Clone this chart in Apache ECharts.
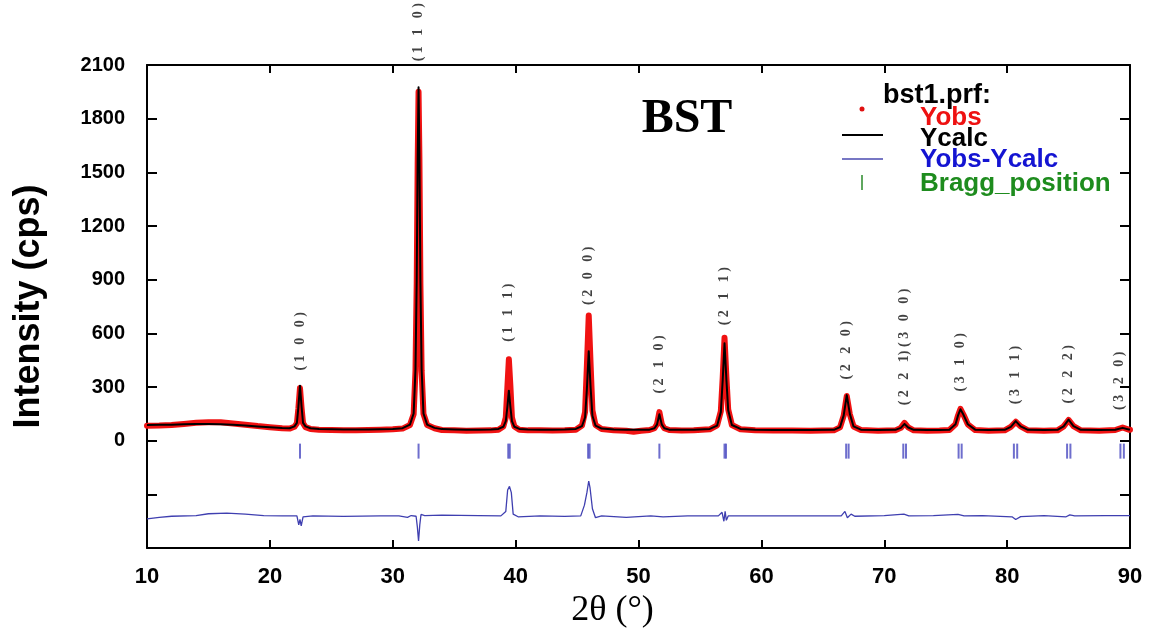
<!DOCTYPE html>
<html>
<head>
<meta charset="utf-8">
<script src="https://cdn.jsdelivr.net/npm/echarts@6/dist/echarts.min.js"></script>
<style>
  html, body { margin: 0; padding: 0; background: #fff; }
  #chart { width: 1153px; height: 634px; }
</style>
</head>
<body>
<div id="chart"></div>
<script>
// Observed intensity, [2θ, cps]
const yobs = [[10,84],[11,85],[12,88],[13,94],[14,100],[15,104],[16,103],[17,97],[18,90],[19,82],[20,76],[21,70],[21.6,68],[22.0,78],[22.2,98],[22.32,180],[22.45,295],[22.58,182],[22.7,98],[22.9,76],[23.3,66],[24,62],[25,60],[26,58],[27,58],[28,60],[29,62],[30,64],[30.8,68],[31.4,88],[31.7,148],[31.85,390],[31.95,880],[32.03,1560],[32.1,1950],[32.17,1580],[32.25,880],[32.35,390],[32.5,150],[32.8,88],[33.4,70],[34,60],[35,58],[36,56],[37,57],[38,58],[38.6,62],[39.0,80],[39.2,130],[39.33,300],[39.45,455],[39.57,310],[39.7,130],[39.9,80],[40.3,62],[41,58],[42,58],[43,57],[44,58],[44.9,62],[45.4,85],[45.65,160],[45.8,420],[45.95,700],[46.1,430],[46.25,170],[46.5,88],[47.0,66],[48,58],[49,56],[49.6,50],[50.2,56],[50.9,60],[51.3,70],[51.5,92],[51.6,125],[51.7,160],[51.8,125],[51.9,92],[52.1,70],[52.5,60],[53.5,57],[54.5,58],[55.8,64],[56.4,86],[56.7,165],[56.85,350],[57.0,575],[57.15,360],[57.3,175],[57.6,88],[58.3,64],[59.5,58],[61,57],[62.5,57],[64,56],[65.9,58],[66.4,75],[66.7,140],[66.95,250],[67.2,148],[67.5,80],[68.1,60],[69.5,56],[70.9,58],[71.35,72],[71.65,100],[71.95,75],[72.4,58],[73.5,56],[74.5,57],[75.3,60],[75.8,92],[76.0,140],[76.2,178],[76.45,145],[76.8,92],[77.4,60],[78.5,56],[79.8,58],[80.3,78],[80.7,106],[81.1,80],[81.7,58],[83,56],[84.1,58],[84.6,80],[85.0,116],[85.4,82],[86.0,58],[87.5,56],[88.8,60],[89.4,74],[89.9,62],[90,62]];

// Calculated profile, [2θ, cps]
const ycalc = [[10,88],[11,89],[12,90],[13,92],[14,93],[15,93],[16,92],[17,89],[18,85],[19,80],[20,76],[21,71],[21.6,70],[22.0,80],[22.2,100],[22.32,188],[22.45,308],[22.58,190],[22.7,100],[22.9,80],[23.3,70],[24,66],[25,64],[26,63],[27,63],[28,63],[29,64],[30,66],[30.8,70],[31.4,90],[31.7,152],[31.85,400],[31.95,900],[32.03,1600],[32.1,1975],[32.17,1610],[32.25,900],[32.35,400],[32.5,152],[32.8,90],[33.4,72],[34,65],[35,63],[36,62],[37,62],[38,63],[38.6,66],[39.0,78],[39.2,110],[39.33,190],[39.45,280],[39.57,192],[39.7,110],[39.9,78],[40.3,66],[41,63],[42,62],[43,62],[44,63],[44.9,66],[45.4,82],[45.65,130],[45.8,290],[45.95,500],[46.1,300],[46.25,140],[46.5,85],[47.0,68],[48,63],[49,62],[50.2,62],[50.9,62],[51.3,70],[51.5,90],[51.6,118],[51.7,148],[51.8,118],[51.9,90],[52.1,70],[52.5,62],[53.5,61],[54.5,62],[55.8,66],[56.4,85],[56.7,160],[56.85,335],[57.0,545],[57.15,345],[57.3,170],[57.6,88],[58.3,66],[59.5,61],[61,60],[62.5,60],[64,60],[65.9,61],[66.4,76],[66.7,142],[66.95,255],[67.2,150],[67.5,80],[68.1,62],[69.5,60],[70.9,61],[71.35,72],[71.65,94],[71.95,74],[72.4,61],[73.5,60],[74.5,60],[75.3,62],[75.8,92],[76.0,140],[76.2,176],[76.45,145],[76.8,92],[77.4,62],[78.5,60],[79.8,61],[80.3,78],[80.7,110],[81.1,80],[81.7,61],[83,60],[84.1,61],[84.6,80],[85.0,118],[85.4,82],[86.0,61],[87.5,60],[88.8,61],[89.4,72],[89.9,63],[90,63]];

// Difference curve (Yobs - Ycalc), drawn shifted below the pattern
const ydiff = [[10,-437],[11,-428],[12,-422],[14,-418],[15,-408],[16.5,-404],[18,-410],[19.5,-418],[21,-420],[22.2,-420],[22.35,-470],[22.45,-440],[22.55,-476],[22.7,-425],[23.5,-420],[26,-423],[29,-420],[30.5,-420],[31.2,-428],[31.5,-418],[31.9,-422],[32.0,-480],[32.1,-560],[32.2,-470],[32.3,-412],[32.6,-418],[34,-416],[37,-418],[38.8,-420],[39.2,-395],[39.35,-275],[39.5,-255],[39.65,-290],[39.8,-410],[40.2,-425],[42,-420],[44,-423],[45.3,-420],[45.6,-360],[45.8,-290],[45.95,-225],[46.05,-260],[46.25,-380],[46.5,-430],[47,-420],[49,-428],[51,-420],[52,-425],[54,-420],[56.5,-420],[56.8,-400],[56.95,-450],[57.05,-395],[57.15,-445],[57.3,-420],[60,-420],[63,-420],[66.5,-420],[66.8,-395],[67,-430],[67.3,-410],[67.6,-422],[70,-418],[71.6,-410],[72,-420],[74,-418],[76,-412],[76.5,-420],[78,-418],[80.4,-425],[80.7,-440],[81.1,-424],[83,-418],[84.8,-425],[85.1,-414],[85.5,-420],[88,-418],[90,-418]];

// Bragg reflection positions (2θ)
const braggPos = [22.45, 32.1, 39.4, 39.52, 45.9, 46.02, 51.7, 57.0, 57.12, 66.9, 67.1, 71.55, 71.77, 76.05, 76.3, 80.55, 80.82, 84.88, 85.15, 89.22, 89.5];
const braggLevel = -58;

// Miller indices of the indexed reflections
const hklText = ['( 1   0   0 )', '( 1   1   0 )', '( 1   1   1 )', '( 2   0   0 )', '( 2   1   0 )', '( 2   1   1 )', '( 2   2   0 )', '( 2   2   1) ( 3   0   0 )', '( 3   1   0 )', '( 3   1   1 )', '( 2   2   2 )', '( 3   2   0 )'];
const hklPos = [22.45, 32.1, 39.45, 45.95, 51.7, 57.0, 66.95, 71.65, 76.2, 80.7, 85.0, 89.1];
const hklTop = [295, 1950, 455, 700, 160, 575, 250, 100, 178, 106, 116, 74];

const xTicks = { min: 10, max: 90, step: 10 };
const yTicks = { min: -600, max: 2100, step: 300 };

// gap between a peak top and its index label, px
const hklGap = [17, 30, 17, 10, 18, 12, 16, 17, 17, 17, 16, 17];

const chart = echarts.init(document.getElementById('chart'));

const sans = 'Liberation Sans, Arial, sans-serif';
const serif = 'Liberation Serif, Times New Roman, serif';

const axisLineStyle = { color: '#000', width: 2 };

const option = {
  animation: false,
  backgroundColor: '#fff',
  grid: { left: 147, right: 23, top: 65, bottom: 82, containLabel: false },
  xAxis: [
    {
      type: 'value', min: xTicks.min, max: xTicks.max, interval: xTicks.step,
      position: 'bottom',
      axisLine: { show: true, onZero: false, lineStyle: axisLineStyle },
      axisTick: { show: true, inside: true, length: 8, lineStyle: axisLineStyle },
      axisLabel: { fontFamily: sans, fontWeight: 'bold', fontSize: 22, color: '#000', margin: 18 },
      splitLine: { show: false },
      name: '2θ (°)', nameLocation: 'middle', nameGap: 44,
      nameTextStyle: { fontFamily: serif, fontSize: 36, color: '#000', padding: [0, 52, 0, 0] }
    },
    {
      type: 'value', min: xTicks.min, max: xTicks.max, interval: xTicks.step,
      position: 'top',
      axisLine: { show: true, onZero: false, lineStyle: axisLineStyle },
      axisTick: { show: true, inside: true, length: 8, lineStyle: axisLineStyle },
      axisLabel: { show: false },
      splitLine: { show: false }
    }
  ],
  yAxis: [
    {
      type: 'value', min: yTicks.min, max: yTicks.max, interval: yTicks.step,
      position: 'left',
      axisLine: { show: true, onZero: false, lineStyle: axisLineStyle },
      axisTick: { show: true, inside: true, length: 10, lineStyle: axisLineStyle },
      axisLabel: {
        fontFamily: sans, fontWeight: 'bold', fontSize: 20, color: '#000', margin: 22,
        formatter: v => (v >= 0 ? String(v) : '')
      },
      splitLine: { show: false },
      name: 'Intensity (cps)', nameLocation: 'middle', nameGap: 100, nameRotate: 90,
      nameTextStyle: { fontFamily: sans, fontWeight: 'bold', fontSize: 36, color: '#000' }
    },
    {
      type: 'value', min: yTicks.min, max: yTicks.max, interval: yTicks.step,
      position: 'right',
      axisLine: { show: true, onZero: false, lineStyle: axisLineStyle },
      axisTick: { show: true, inside: true, length: 10, lineStyle: axisLineStyle },
      axisLabel: { show: false },
      splitLine: { show: false }
    }
  ],
  series: [
    {
      name: 'Yobs', type: 'line', data: yobs, showSymbol: false, silent: true,
      lineStyle: { color: '#f01212', width: 6, join: 'round', cap: 'round' }, z: 2
    },
    {
      name: 'Ycalc', type: 'line', data: ycalc, showSymbol: false, silent: true,
      lineStyle: { color: '#000', width: 2, join: 'round' }, z: 3
    },
    {
      name: 'Yobs-Ycalc', type: 'line', data: ydiff, showSymbol: false, silent: true,
      lineStyle: { color: '#3f3fb0', width: 1.3 }, z: 3
    },
    {
      name: 'Bragg_position', type: 'scatter', silent: true,
      data: braggPos.map(x => [x, braggLevel]),
      symbol: 'rect', symbolSize: [2, 15],
      itemStyle: { color: '#4a4ac0' }, z: 3
    },
    {
      name: 'hkl', type: 'scatter', silent: true, z: 4,
      symbolSize: 1,
      itemStyle: { color: 'rgba(0,0,0,0)' },
      data: hklPos.map((x, i) => ({ value: [x, hklTop[i]], label: { distance: hklGap[i] } })),
      label: {
        show: true, position: 'top', rotate: 90, align: 'left', verticalAlign: 'middle',
        formatter: p => hklText[p.dataIndex],
        fontFamily: serif, fontWeight: 'bold', fontSize: 14, color: '#111'
      }
    }
  ],
  graphic: [
    { type: 'text', style: { text: 'BST', x: 687, y: 120, align: 'center', verticalAlign: 'middle', font: 'bold 48px ' + serif, fill: '#000' } },
    // key
    { type: 'text', style: { text: 'bst1.prf:', x: 883, y: 96, verticalAlign: 'middle', font: 'bold 27px ' + sans, fill: '#000' } },
    { type: 'circle', shape: { cx: 862, cy: 109, r: 2.5 }, style: { fill: '#e01010' } },
    { type: 'text', style: { text: 'Yobs', x: 920, y: 118, verticalAlign: 'middle', font: 'bold 26px ' + sans, fill: '#ee1111' } },
    { type: 'line', shape: { x1: 842, y1: 135, x2: 883, y2: 135 }, style: { stroke: '#000', lineWidth: 2 } },
    { type: 'text', style: { text: 'Ycalc', x: 920, y: 139, verticalAlign: 'middle', font: 'bold 26px ' + sans, fill: '#000' } },
    { type: 'line', shape: { x1: 842, y1: 159, x2: 883, y2: 159 }, style: { stroke: '#4a4ab0', lineWidth: 1.5 } },
    { type: 'text', style: { text: 'Yobs-Ycalc', x: 920, y: 160, verticalAlign: 'middle', font: 'bold 26px ' + sans, fill: '#1414d2' } },
    { type: 'line', shape: { x1: 862, y1: 175, x2: 862, y2: 190 }, style: { stroke: '#2a8a2a', lineWidth: 1.5 } },
    { type: 'text', style: { text: 'Bragg_position', x: 920, y: 184, verticalAlign: 'middle', font: 'bold 26px ' + sans, fill: '#1e8c1e' } }
  ]
};

chart.setOption(option);
</script>
</body>
</html>
